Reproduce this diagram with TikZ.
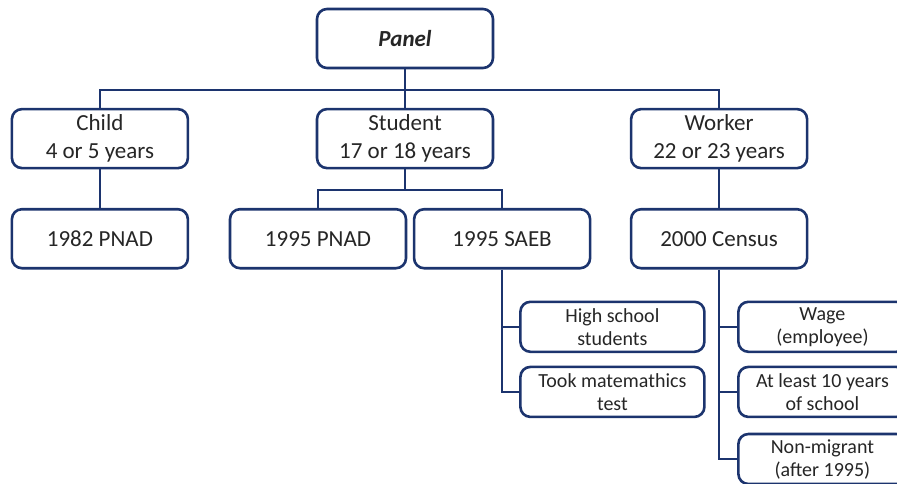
\documentclass[tikz,border=0pt]{standalone}
\usepackage{fontspec}
\setmainfont{Carlito}
\usetikzlibrary{positioning}
\definecolor{navy}{RGB}{28,52,110}
\tikzset{
  box/.style={draw=navy, line width=2.6pt, rounded corners=10pt, fill=white,
    minimum width=176pt, minimum height=59pt, align=center, inner sep=2pt,
    text=black!85, font=\fontsize{23}{28}\selectfont},
  subbox/.style={box, minimum width=184pt, minimum height=50pt,
    font=\fontsize{20}{23}\selectfont},
  link/.style={draw=navy, line width=2.6pt}
}

\begin{document}
\begin{tikzpicture}
      \clip (0,0) rectangle (897pt,-483pt);
      \node[box] (panel) at (405pt,-38.5pt) {\textbf{\textit{Panel}}};
      \node[box, below=38.5pt of panel] (student) {Student\\17 or 18 years};
      \node[box, left=126.5pt of student] (child) {Child\\4 or 5 years};
      \node[box, right=135.5pt of student] (worker) {Worker\\22 or 23 years};
      \node[box, below=38.5pt of child] (pnad82) {1982 PNAD};
      \node[box, below=38.5pt of student, xshift=-87pt] (pnad95) {1995 PNAD};
      \node[box, right=5.5pt of pnad95] (saeb) {1995 SAEB};
      \node[box, below=38.5pt of worker] (census) {2000 Census};
      % SAEB sample
      \node[subbox, below right=31pt and 17pt of saeb.south] (highschool) {High school\\students};
      \node[subbox, below=12.5pt of highschool] (mathtest) {Took matemathics\\test};
      % Census sample
      \node[subbox, minimum width=168pt, below right=31pt and 18pt of census.south] (wage) {Wage\\(employee)};
      \node[subbox, minimum width=168pt, below=12.5pt of wage] (schooling) {At least 10 years\\of school};
      \node[subbox, minimum width=168pt, below=14.5pt of schooling] (nonmigrant) {Non-migrant\\(after 1995)};
      \draw[link] (panel) -- (student)
      (panel.south) -- ++(0,-20.5pt) -| (child.north)
      (panel.south) -- ++(0,-20.5pt) -| (worker.north)
      (child) -- (pnad82)
      (student.south) -- ++(0,-20.5pt) -| (pnad95.north)
      (student.south) -- ++(0,-20.5pt) -| (saeb.north)
      (worker) -- (census)
      (saeb.south) |- (highschool.west)
      (saeb.south) |- (mathtest.west)
      (census.south) |- (wage.west)
      (census.south) |- (schooling.west)
      (census.south) |- (nonmigrant.west);
    \end{tikzpicture}
\end{document}
